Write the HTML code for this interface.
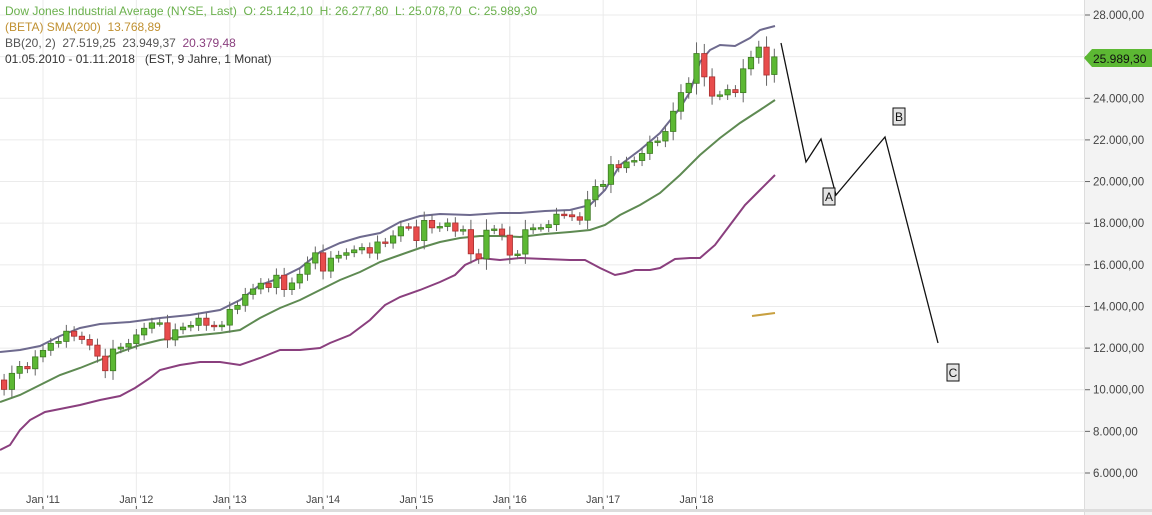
<!DOCTYPE html>
<html><head><meta charset="utf-8"><style>
html,body{margin:0;padding:0;background:#fff;width:1152px;height:515px;overflow:hidden}
svg{display:block;font-family:"Liberation Sans",sans-serif}
</style></head><body>
<svg id="c" width="1152" height="515" xmlns="http://www.w3.org/2000/svg"></svg>
<script>
const S=document.getElementById('c');let h='';
const Y=v=>15+(28000-v)*0.020818;
const X=m=>43+m*7.78;
h+='<rect x="1084" y="0" width="68" height="515" fill="#f3f3f3"/>';
h+='<line x1="1084.5" y1="0" x2="1084.5" y2="515" stroke="#ddd"/>';
for(let v=6000;v<=28000;v+=2000){const y=Y(v);
h+=`<line x1="0" y1="${y}" x2="1084" y2="${y}" stroke="#ebebeb"/>`;
h+=`<line x1="1085" y1="${y}" x2="1090" y2="${y}" stroke="#666"/>`;
if(v!==26000)h+=`<text x="1093" y="${y+4}" font-size="11.5" fill="#444">${(v/1000).toFixed(3)},00</text>`;}
const yrs=['11','12','13','14','15','16','17','18'];
yrs.forEach((t,i)=>{const x=X(i*12);h+=`<line x1="${x}" y1="0" x2="${x}" y2="509" stroke="#ebebeb"/><line x1="${x}" y1="506" x2="${x}" y2="511" stroke="#555"/><text x="${x}" y="503" font-size="11" fill="#444" text-anchor="middle" textLength="34" lengthAdjust="spacingAndGlyphs">Jan '${t}</text>`;});
h+='<rect x="0" y="509" width="1152" height="3" fill="#ddd"/>';
const c=[10137,9774,10466,10015,10788,11118,11006,11578,
11892,12226,12320,12811,12570,12414,12143,11614,10913,11955,12046,12218,
12633,12952,13212,13214,12393,12880,13009,13091,13437,13096,13026,13104,
13861,14054,14579,14840,15116,14910,15500,14810,15130,15546,16086,16577,
15699,16322,16458,16581,16717,16827,16563,17098,17043,17391,17828,17823,
17165,18133,17776,17841,18011,17620,17690,16528,16285,17664,17720,17425,
16466,16517,17685,17774,17787,17930,18432,18401,18308,18142,19124,19763,
19864,20812,20663,20941,21009,21350,21891,21948,22405,23377,24272,24719,
26149,25029,24103,24163,24416,24271,25415,25965,26458,25116,25989];
const poly=(p,col,w)=>{h+=`<polyline fill="none" stroke="${col}" stroke-width="${w}" points="${p.map(a=>a.join(',')).join(' ')}"/>`;};
poly([[0,352],[20,350],[40,346],[60,336],[80,328],[100,324],[130,322],[160,318],[190,315],[220,310],[240,300],[260,285],[280,278],[300,268],[320,252],[340,243],[360,237],[380,233],[400,222],[420,216],[440,214],[470,215],[500,213],[520,213],[545,211],[570,210],[590,205],[605,190],[620,165],[640,150],[660,133],[680,108],[690,92],[700,62],[710,50],[720,45],[735,46],[750,38],[760,30],[775,26]],'#6e6a8e',2);
poly([[0,402],[20,395],[40,385],[60,375],[80,368],[100,360],[120,352],[140,345],[160,340],[180,337],[200,335],[220,333],[240,330],[260,318],[280,308],[300,300],[320,290],[340,280],[360,272],[380,262],[400,255],[420,248],[440,242],[460,238],[480,236],[500,236],[520,237],[545,234],[570,232],[590,230],[605,225],[620,215],[640,205],[660,193],[680,175],[700,155],[720,138],[740,123],[760,110],[775,100]],'#5e8a52',2);
poly([[0,450],[10,445],[20,430],[30,420],[45,412],[60,409],[80,405],[100,400],[120,396],[135,388],[150,378],[160,370],[180,365],[200,362],[220,362],[240,365],[260,358],[280,350],[300,350],[320,348],[330,343],[350,335],[370,320],[385,305],[400,297],[420,290],[440,282],[455,275],[465,265],[480,258],[500,260],[520,258],[545,259],[570,260],[585,260],[600,268],[615,275],[625,273],[635,270],[650,270],[660,268],[675,259],[690,258],[700,258],[715,245],[730,225],[745,205],[760,190],[775,175]],'#8a3f7e',2);
poly([[752,316],[775,313]],'#c8a040',2);
for(let i=1;i<c.length;i++){const m=i-8;const x=X(m);if(x<-5)continue;
let o=c[i-1],cl=c[i];if(i===c.length-1)o=25142;
const hi=Math.max(o,cl)+Math.abs(cl-o)*0.25+180,lo=Math.min(o,cl)-Math.abs(cl-o)*0.25-180;
const up=cl>=o,col=up?'#5cb833':'#e84c4c',bd=up?'#3d7a22':'#a83030';
h+=`<line x1="${x}" y1="${Y(hi)}" x2="${x}" y2="${Y(lo)}" stroke="#666"/>`;
const t=Y(Math.max(o,cl)),b=Y(Math.min(o,cl));
h+=`<rect x="${x-2.7}" y="${t}" width="5.4" height="${Math.max(1.5,b-t)}" fill="${col}" stroke="${bd}" stroke-width="0.8"/>`;}
poly([[781,43],[806,162],[821,139],[836,195],[885,137],[938,343]],'#111',1.3);
[['A',823,188],['B',893,108],['C',947,364]].forEach(([t,x,y])=>{h+=`<rect x="${x}" y="${y}" width="12" height="17" fill="#e4e4e4" stroke="#111"/><text x="${x+6}" y="${y+13}" font-size="12" text-anchor="middle" fill="#111">${t}</text>`;});
h+='<path d="M1084,58 L1092,49 L1152,49 L1152,67 L1092,67 Z" fill="#5cb833"/><text x="1093" y="63" font-size="12" fill="#111">25.989,30</text>';
h+='<text x="5" y="15" font-size="12" fill="#6ab04c" xml:space="preserve">Dow Jones Industrial Average (NYSE, Last)  O: 25.142,10  H: 26.277,80  L: 25.078,70  C: 25.989,30</text>';
h+='<text x="5" y="31" font-size="12" fill="#c09030" xml:space="preserve">(BETA) SMA(200)  13.768,89</text>';
h+='<text x="5" y="47" font-size="12" fill="#555" xml:space="preserve">BB(20, 2)  27.519,25  23.949,37  <tspan fill="#8a3f7e">20.379,48</tspan></text>';
h+='<text x="5" y="63" font-size="12" fill="#333" xml:space="preserve">01.05.2010 - 01.11.2018   (EST, 9 Jahre, 1 Monat)</text>';
S.innerHTML=h;
</script>
</body></html>
